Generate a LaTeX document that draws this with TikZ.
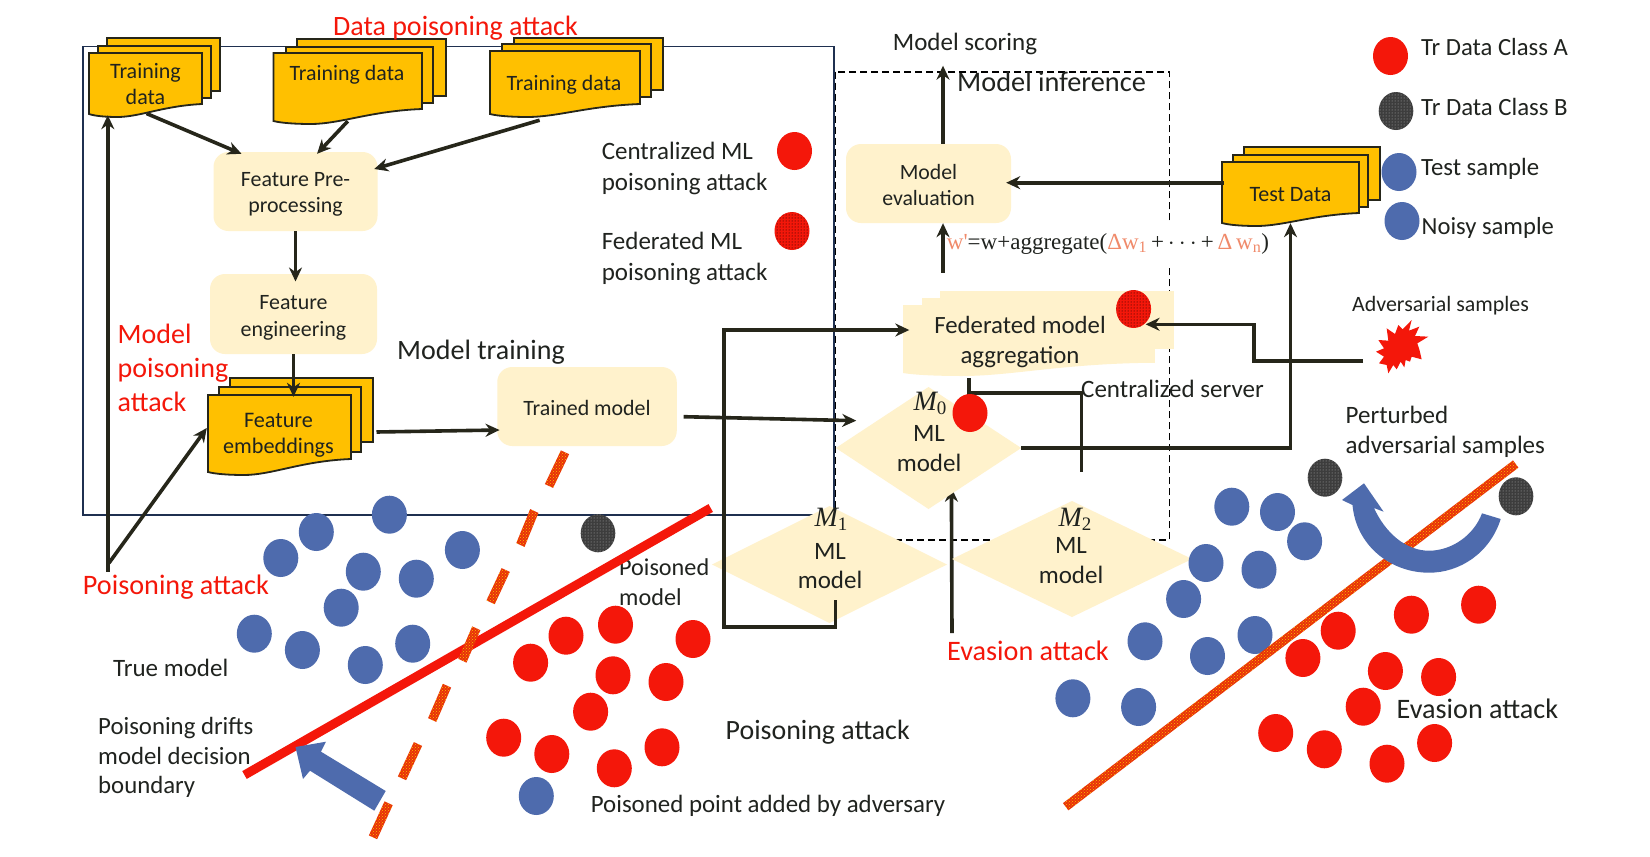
\documentclass[tikz,border=0pt]{standalone}
\usepackage{fontspec}
\setmainfont{Carlito}
\newfontfamily\formfont{Liberation Serif}
\usetikzlibrary{arrows.meta,calc,patterns,shapes.geometric}
\definecolor{ink}{HTML}{20231F}
\definecolor{redc}{HTML}{F4170A}
\definecolor{bluec}{HTML}{4E6BAD}
\definecolor{cream}{HTML}{FFF2CC}
\definecolor{gold}{HTML}{FFC000}
\definecolor{navy}{HTML}{1F3050}
\definecolor{salmon}{HTML}{F08A6A}
\definecolor{dark}{HTML}{26261A}
\definecolor{stip}{HTML}{E8300A}
\newcommand{\fs}[2]{\fontsize{#1}{#2}\selectfont}
\newcommand{\mlab}[1]{{\formfont\fs{28}{30}\itshape M}\raisebox{-4pt}{\formfont\fs{19}{20}#1}}
% x1 y1 x2 yL yR
\newcommand{\wavepath}[5]{(#1,#2) -- (#3,#2) -- (#3,#5) .. controls ({#1+.65*(#3-#1)},{#5+2}) and ({#1+.45*(#3-#1)},{#4+3}) .. ({#1+.25*(#3-#1)},{#4+3}) .. controls ({#1+.15*(#3-#1)},{#4+3}) and ({#1+.05*(#3-#1)},{#4+2}) .. (#1,#4) -- cycle}
\newcommand{\dseg}[4]{\fill[stip,postaction={pattern=crosshatch dots,pattern color=gold}] ({#1+4.1},{#2+1.9}) -- ({#3+4.1},{#4+1.9}) -- ({#3-4.1},{#4-1.9}) -- ({#1-4.1},{#2-1.9}) -- cycle;}
\tikzset{
  sheet/.style={fill=gold,draw=dark,line width=1.8pt},
  crm/.style={fill=cream,draw=none},
  rbox/.style={rectangle,fill=cream,rounded corners=15pt,inner sep=0pt,align=center,text=ink},
  hold/.style={rectangle,inner sep=0pt,align=center,text=ink},
  dia/.style={diamond,fill=cream,inner sep=0pt,outer sep=0pt},
  tx/.style={inner sep=0pt,align=left,text=ink},
  txc/.style={inner sep=0pt,align=center,text=ink},
  rtx/.style={inner sep=0pt,align=left,text=redc},
  conn/.style={draw=dark,line width=3.6pt,-{Stealth[length=14pt,width=13pt]}},
  plain/.style={draw=dark,line width=3.6pt},
  reddot/.style={fill=redc},
  bludot/.style={fill=bluec},
  feddot/.style={fill=redc,postaction={pattern=dots,pattern color=black}},
  gradot/.style={fill=black!76,postaction={pattern=dots,pattern color=white!70!black}},
}
\begin{document}
\begin{tikzpicture}[x=1pt,y=-1pt]
\useasboundingbox (0,0) rectangle (1650,857);
\fill[white] (0,0) rectangle (1650,857);
% frames
\draw[navy,line width=1.6pt] (83,515) rectangle (834,46.5);
\draw[black,line width=1.6pt,dash pattern=on 7pt off 4pt] (835.6,71.7) rectangle (1169.6,540);
\node[inner sep=0pt,fill=white,minimum height=42pt,text=ink,font=\formfont\fs{23}{30}] (form) at (1108,243.5) {{\color{salmon}w'}=w+aggregate({\color{salmon}Δw\textsubscript{1}}\,+\,$\cdots$\,+\,{\color{salmon}Δ\,w\textsubscript{n}})};
% diamonds
\node[rtx,font=\fs{28.2}{30}] (evat) at (1028,651) {Evasion attack};
\coordinate (m0bot) at (928.5,509);
\draw[conn] ($(evat.center)+(-76,-18)$) -- ($(m0bot)+(22.9,-21.3)$);
\node[dia,minimum width=185.4pt,minimum height=122pt] (m0) at (928.5,448) {};
\node[dia,minimum width=235pt,minimum height=117pt] (m1) at (829.5,564.5) {};
\node[dia,minimum width=240pt,minimum height=116pt] (m2) at (1072,559) {};
\node[txc] (m0t) at (930,403) {\mlab{0}};
\node[txc,font=\fs{25}{30}] (m0u) at (929,449) {ML\\model};
\node[txc] (m1t) at (831,519) {\mlab{1}};
\node[txc,font=\fs{25}{29}] (m1u) at (830,566) {ML\\model};
\node[txc] (m2t) at (1075,519) {\mlab{2}};
\node[txc,font=\fs{25}{30}] (m2u) at (1071,561) {ML\\model};
% rounded boxes
\node[rbox,minimum width=164pt,minimum height=79pt,font=\fs{21.9}{26.5}] (pre) at (295.5,191.5) {};
\node[txc,font=\fs{21.9}{26.5}] (pret) at (295.5,194.5) {Feature Pre-\\processing};
\node[rbox,minimum width=167pt,minimum height=80pt] (eng) at (293.5,314) {};
\node[txc,font=\fs{21.9}{26.5}] (engt) at (293.5,318) {Feature\\engineering};
\node[rbox,minimum width=179.5pt,minimum height=79pt] (trained) at (587,406.5) {};
\node[txc,font=\fs{21.9}{26}] (trt) at (587,408) {Trained model};
\node[rbox,minimum width=165pt,minimum height=79pt] (eval) at (928.5,183.5) {};
\node[txc,font=\fs{21.8}{26.5}] (evt) at (928.5,185) {Model\\evaluation};
% aggregation
\fill[crm] (940,291) rectangle (1174,349);
\fill[crm] (922,298) rectangle (1155,363);
\fill[crm] \wavepath{903}{305}{1138}{373}{363};
\node[hold,minimum width=271pt,minimum height=87pt] (agg) at (1038.5,334.5) {};
\node[txc,font=\fs{24.8}{30}] (aggt) at (1020,342.5) {Federated model\\aggregation};
% documents
\draw[sheet] (107,38) rectangle (220,91);
\draw[sheet] (98,46) rectangle (211,98);
\draw[sheet] \wavepath{89}{53}{202}{114}{104};
\node[hold,minimum width=113pt,minimum height=61pt] (doc1) at (145.5,83.5) {};
\node[txc,font=\fs{22}{26.5}] (doc1t) at (145.5,84) {Training\\data};
\draw[sheet] (297,39) rectangle (446,96);
\draw[sheet] (286,47) rectangle (433,103);
\draw[sheet] \wavepath{273.5}{53}{422}{121}{109};
\node[hold,minimum width=148.5pt,minimum height=68pt] (doc2) at (347.75,87) {};
\node[txc,font=\fs{21.9}{26}] (doc2t) at (347,75) {Training data};
\draw[sheet] (514,38) rectangle (663,90);
\draw[sheet] (502,44) rectangle (651,97);
\draw[sheet] \wavepath{490}{51}{640}{114}{104};
\node[hold,minimum width=150pt,minimum height=63pt] (doc3) at (565,82.5) {};
\node[txc,font=\fs{21.9}{26}] (doc3t) at (564,85) {Training data};
\draw[sheet] (230,378) rectangle (373,442);
\draw[sheet] (219,387) rectangle (361,452);
\draw[sheet] \wavepath{208}{395}{351}{472}{459};
\node[hold,minimum width=143pt,minimum height=77pt] (emb) at (279.5,433.5) {};
\node[txc,font=\fs{22.2}{26}] (embt) at (278.5,435.5) {Feature\\embeddings};
\draw[sheet] (1244,147) rectangle (1380,200);
\draw[sheet] (1233,155) rectangle (1368,207);
\draw[sheet] \wavepath{1222}{162}{1359}{223}{213};
\node[hold,minimum width=137pt,minimum height=61pt,font=\fs{22}{24}] (test) at (1290.5,194.5) {Test Data};
% labels
\node[rtx,font=\fs{28}{30}] (dpa) at (455.5,28) {Data poisoning attack};
\node[rtx,anchor=west,font=\fs{28}{33.7}] (mpa) at (117.5,368) {Model\\poisoning\\attack};
\node[rtx,font=\fs{28.2}{30}] (pa) at (176,587) {Poisoning attack};
\node[tx,anchor=west,font=\fs{28}{30}] (mtr) at (397,352) {Model training};
\node[tx,anchor=west,font=\fs{25}{31}] (cml) at (601.6,168.5) {Centralized ML\\poisoning attack};
\node[tx,anchor=west,font=\fs{25}{31}] (fml) at (601.6,258.5) {Federated ML\\poisoning attack};
\node[txc,font=\fs{25}{30}] (scoring) at (965,44) {Model scoring};
\node[tx,anchor=west,font=\fs{28.3}{30}] (inf) at (957,81.7) {Model inference};
\node[tx,anchor=west,font=\fs{25}{30}] (cs) at (1081,389) {Centralized server};
\node[tx,anchor=west,font=\fs{24.2}{29.5}] (pm) at (619,582) {Poisoned\\model};
\node[tx,anchor=west,font=\fs{25}{30}] (tm) at (113,667.5) {True model};
\node[tx,anchor=west,font=\fs{24.8}{29.5}] (pd) at (98,757.5) {Poisoning drifts\\model decision\\boundary};
\node[tx,anchor=west,font=\fs{27.9}{30}] (pat) at (725.5,732) {Poisoning attack};
\node[tx,anchor=west,font=\fs{24.9}{30}] (ppa) at (590.6,806) {Poisoned point added by adversary};
\node[tx,anchor=west,font=\fs{28.2}{30}] (eat) at (1396.5,709) {Evasion attack};
\node[tx,anchor=west,font=\fs{24.7}{30}] (la) at (1421,47.3) {Tr Data Class A};
\node[tx,anchor=west,font=\fs{24.8}{30}] (lb) at (1421,107.3) {Tr Data Class B};
\node[tx,anchor=west,font=\fs{24.8}{30}] (lt) at (1421,169) {Test sample};
\node[tx,anchor=west,font=\fs{24.6}{30}] (ln) at (1421.5,227.7) {Noisy sample};
\node[tx,anchor=west,font=\fs{21.9}{26}] (ads) at (1352,306) {Adversarial samples};
\node[tx,anchor=west,font=\fs{25}{30}] (pas) at (1345.5,432) {Perturbed\\adversarial samples};
\coordinate (adv) at (1401.8,346.7);
\fill[redc,shift={(1360,310)},x=.3333pt,y=-.3333pt] (155,30) -- (147,62) -- (178,50) -- (165,78) -- (205,80) -- (172,100) -- (178,118) -- (185,148) -- (155,140) -- (150,155) -- (137,150) -- (133,172) -- (122,155) -- (110,178) -- (100,165) -- (85,190) -- (80,165) -- (57,160) -- (72,140) -- (48,125) -- (72,115) -- (55,90) -- (85,92) -- (80,55) -- (105,72) -- (115,45) -- (128,58) -- cycle;
% connectors
\draw[conn] ($(doc1.south)+(1,-.7)$) -- ($(pre.north)+(-54,2)$);
\draw[conn] (doc2.south) -- ($(pre.north)+(21.5,2)$);
\draw[conn] ($(doc3.south)+(-25.4,6)$) -- ($(pre.east)+(-3.5,-22.5)$);
\draw[conn] (pre.south) -- ($(eng.north)+(2,7.7)$);
\draw[conn] (eng.south) -- ($(emb.north)+(14,2)$);
\draw[conn] ($(emb.east)+(25.3,-1.5)$) -- ($(trained.west)+(2.5,23.5)$);
\draw[conn] ($(trained.east)+(6.7,10.2)$) -- ($(m0.west)+(20.4,-27.3)$);
\draw[conn] ($(pa.center)+(-68.2,-15.3)$) -- ($(doc1.south)+(-37.7,1)$);
\draw[conn] ($(pa.center)+(-67,-24)$) -- ($(emb.west)+(-1,-5.5)$);
\draw[conn] ($(eval.north)+(14.5,0)$) -- ($(scoring.center)+(-22,21.7)$);
\draw[conn] ($(agg.north)+(-95.5,-18.3)$) -- ($(eval.south)+(14.5,0)$);
\draw[conn] ($(test.west)+(1.7,-11.8)$) -- ($(eval.east)+(-5,-.8)$);
\draw[conn] (m0.east) -| ($(test.south)+(0,-2)$);
\draw[conn] ($(m1.south)+(6,-23)$) -- ++(0,26.7) -- ++(-111.7,0) -- ++(0,-296.7) -- ($(agg.west)+(6.5,-4.5)$);
\draw[plain] ($(agg.south)+(-69.7,0)$) -- ++(0,15) -| ($(m2.north)+(9.4,-29.3)$);
\coordinate (dotagg) at (1133.6,309);
\draw[conn] ($(adv)+(-38.8,14)$) -- ++(-109.3,0) -- ++(0,-36.4) -- ($(dotagg)+(12,15.3)$);
% dots
\foreach \x/\y in {794.5/151,970/413,1390.5/56}{\fill[reddot] (\x,\y) ellipse [x radius=17.5,y radius=19];}
\foreach \x/\y in {792/231,1133.6/309}{\fill[feddot] (\x,\y) ellipse [x radius=17.5,y radius=19];}
\foreach \x/\y in {1396/111,598/533.3,1325/477.7,1516/496.3}{\fill[gradot] (\x,\y) ellipse [x radius=17.3,y radius=19];}
\foreach \x/\y in {1399/172,1402/221,316.3/532,389.4/514.7,280.8/558,462.4/550,363.3/571.7,416.3/578.7,341.2/607.7,254.3/633.7,302.4/650,365.3/665,412.7/643.7,536.3/796,1231.8/506.7,1277.5/512,1304.6/541.3,1206/563,1259/569.7,1183.6/599,1145/641.3,1207.5/656,1255/635,1072.9/698.3,1138.6/707}{\fill[bludot] (\x,\y) ellipse [x radius=17.5,y radius=19];}
\foreach \x/\y in {530.6/662.7,566/635.7,615.5/624.7,613/675.3,590.6/711.7,666/682,693/639,503.7/737.7,551.8/754,614.3/768.3,662/747.3,1411.4/614.7,1478.6/604.7,1338.2/630.7,1302.9/658,1385.4/671,1438.6/677,1363.2/706.7,1275.7/733,1324.3/749.3,1387/763.7,1434.6/743}{\fill[reddot] (\x,\y) ellipse [x radius=17.5,y radius=19];}
% boundaries
\draw[redc,line width=9pt] (244.5,775) -- (710.7,508);
\dseg{565}{452.3}{549}{486}
\dseg{534.3}{511}{520.4}{545}
\dseg{505.7}{570}{490.6}{602.3}
\dseg{476.3}{628.3}{462.4}{660.7}
\dseg{447}{685.7}{432.2}{720}
\dseg{418}{744}{402}{778.3}
\dseg{388.6}{803.3}{373}{837.3}
\fill[stip,postaction={pattern=crosshatch dots,pattern color=gold}] (1063,803.1) -- (1068.4,810.3) -- (1518.4,467.6) -- (1513,460.4) -- cycle;
% blue arrows
\fill[bluec] (295.5,747) -- (326,741.7) -- (321,751.7) -- (385.7,791) -- (374.3,810.7) -- (310,770.7) -- (303,779) -- cycle;
\fill[bluec] (1500.7,519) .. controls (1490,553) and (1460,572.7) .. (1429,572.7) .. controls (1390,572.7) and (1356,545) .. (1352.5,505) -- (1342,500) -- (1364,483.3) -- (1383.6,511.7) -- (1374,508) .. controls (1385,532) and (1405,550.7) .. (1429,550.7) .. controls (1452,550.7) and (1474,535) .. (1482,513.3) -- cycle;
\end{tikzpicture}
\end{document}
